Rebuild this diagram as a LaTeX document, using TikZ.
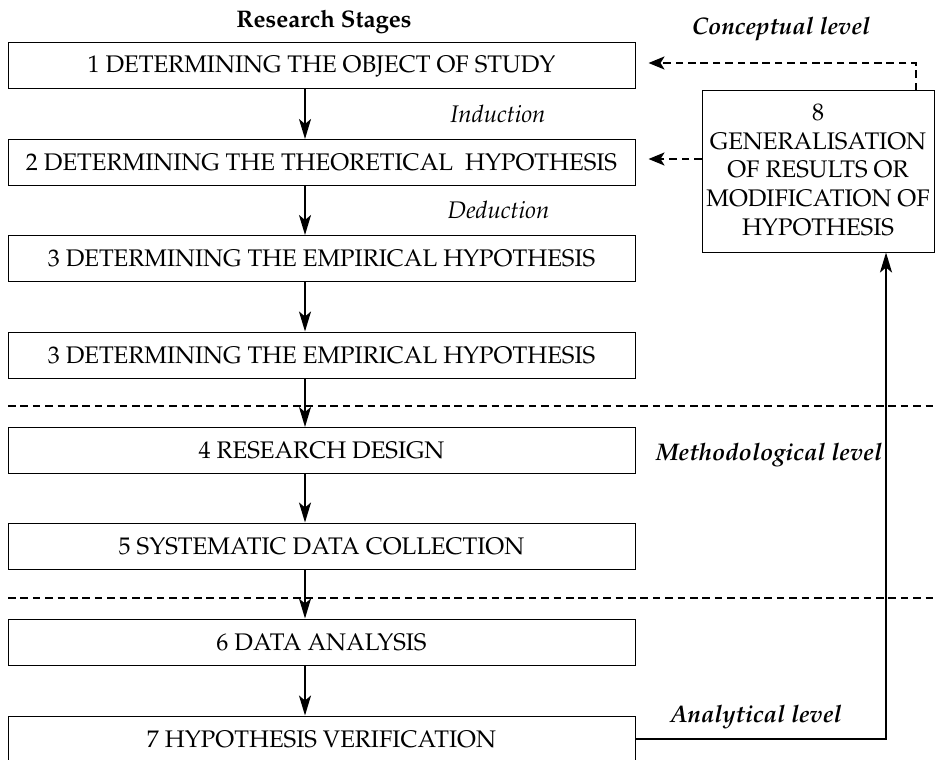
\documentclass[tikz,border=0pt]{standalone}
\usepackage[T1]{fontenc}
\renewcommand{\rmdefault}{ppl}
\usetikzlibrary{arrows.meta}
\begin{document}
\begin{tikzpicture}[x=0.5pt,y=-0.5pt,
  txt/.style={font=\fontsize{12}{14.35}\selectfont},
  stage/.style={txt, draw, line width=0.5pt, minimum width=313.5pt, minimum height=23pt, inner sep=0pt},
  arr/.style={line width=0.9pt, -{Stealth[length=10pt,width=6pt,inset=2.5pt]}},
  darr/.style={line width=1.1pt, dash pattern=on 3.8pt off 2.4pt, -{Stealth[length=8pt,width=6.5pt,inset=2pt]}},
  sepline/.style={line width=1.1pt, dash pattern=on 3.8pt off 2.4pt},
  conn/.style={line width=1.2pt, -{Stealth[length=10pt,width=6pt,inset=2.5pt]}},
  lbl/.style={txt, anchor=base, inner sep=0pt, font=\fontsize{12}{14.35}\selectfont\itshape},
  lvl/.style={txt, anchor=base, inner sep=0pt, font=\fontsize{12}{14.35}\selectfont\bfseries\itshape}]
\useasboundingbox (0,0) rectangle (935,759);

\node[txt, anchor=base, inner sep=0pt, font=\fontsize{12}{14.35}\selectfont\bfseries] (title) at (324,28) {Research Stages};

\node[stage] (b1) at (321.5,66) {1 DETERMINING THE OBJECT OF STUDY};
\node[stage] (b2) at (321.5,162.5) {2 DETERMINING THE THEORETICAL~~HYPOTHESIS};
\node[stage] (b3) at (321.5,258.5) {3 DETERMINING THE EMPIRICAL HYPOTHESIS};
\node[stage] (b3b) at (321.5,355) {3 DETERMINING THE EMPIRICAL HYPOTHESIS};
\node[stage] (b4) at (321.5,450.5) {4 RESEARCH DESIGN};
\node[stage] (b5) at (321.5,546) {5 SYSTEMATIC DATA COLLECTION};
\node[stage] (b6) at (321.5,642) {6 DATA ANALYSIS};
\node[stage] (b7) at (321.5,739) {7 HYPOTHESIS VERIFICATION};

\node[txt, draw, line width=0.5pt, minimum width=116pt, minimum height=80.5pt, inner sep=0pt, align=center,
  text depth=2pt] (b8) at (818,171.5)
  {8\\GENERALISATION\\OF RESULTS OR\\MODIFICATION OF\\HYPOTHESIS};

\node[lbl] (ind) at (498,123) {Induction};
\node[lbl] (ded) at (498.5,218) {Deduction};
\node[lvl] (conc) at (781,35) {Conceptual level};
\node[lvl] (meth) at (769,460) {Methodological level};
\node[lvl] (anal) at (756,722) {Analytical level};

\draw[sepline] (8,406) -- (940,406);
\draw[sepline] (8,598) -- (940,598);

\foreach \a/\b in {b1/b2,b2/b3,b3/b3b,b3b/b4,b4/b5,b5/b6,b6/b7}
  \draw[arr] ([xshift=-8.25pt]\a.south) -- ([xshift=-8.25pt]\b.north);

\coordinate (g1) at ([xshift=6.5pt,yshift=1.5pt]b1.east);
\draw[darr] ([xshift=49pt]b8.north) |- (g1);
\coordinate (g2) at ([xshift=6.5pt,yshift=1.75pt]b2.east);
\draw[darr] (g2 -| b8.west) -- (g2);

\draw[conn] (b7.east) -| ([xshift=34pt]b8.south);
\end{tikzpicture}
\end{document}
